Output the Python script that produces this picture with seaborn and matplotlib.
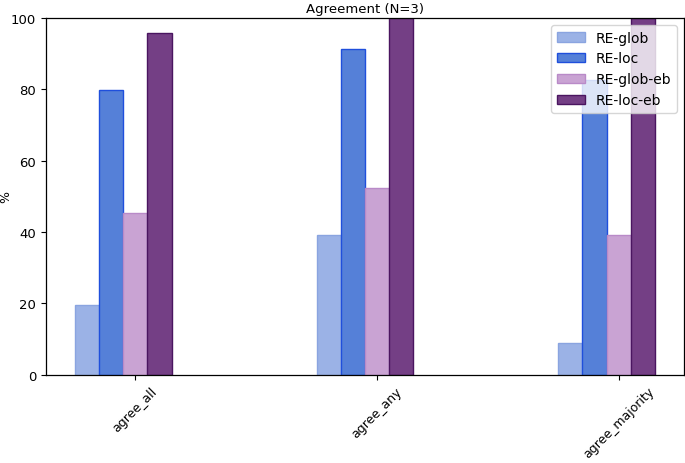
import numpy as np
import pandas as pd
import matplotlib
matplotlib.use("Agg")
import matplotlib.pyplot as plt
import seaborn as sns

####data####
categories = ["agree_all", "agree_any", "agree_majority"]
methods = ["RE-glob", "RE-loc", "RE-glob-eb", "RE-loc-eb"]
re_glob = [19.5, 39.2, 9.0]
re_loc = [79.8, 91.3, 82.5]
re_glob_eb = [45.3, 52.3, 39.2]
re_loc_eb = [95.8, 100.0, 100.0]

fills = ["#9bb2e6", "#5580d8", "#c9a3d3", "#743f85"]
edges = ["#8aa4e0", "#1f4fdc", "#b98ac8", "#4a1560"]

####figure settings####
sns.set_style("ticks")
plt.rcParams["font.family"] = ["DejaVu Sans"]
for k in ["text.color", "axes.labelcolor", "xtick.color", "ytick.color", "axes.edgecolor"]:
    plt.rcParams[k] = "black"

rows = []
for m, vals in zip(methods, [re_glob, re_loc, re_glob_eb, re_loc_eb]):
    for c, v in zip(categories, vals):
        rows.append({"category": c, "method": m, "value": v})
df = pd.DataFrame(rows)
# bars sit at group index + offset (-0.2, -0.1, 0, 0.1), width 0.1
offs = {m: -0.2 + 0.1 * i for i, m in enumerate(methods)}
df["pos"] = df["category"].map({c: i for i, c in enumerate(categories)}) + df["method"].map(offs)
df["pos"] = df["pos"].round(2)

fig = plt.figure(figsize=(6.85, 4.64), dpi=100)
ax = fig.add_axes([0.067, 0.19, 0.9315, 0.769])

sns.barplot(data=df, x="pos", y="value", hue="method", hue_order=methods,
            palette=fills, native_scale=True, dodge=False, width=1.0,
            saturation=1.0, linewidth=1.0, ax=ax)

for cont, ec in zip(ax.containers, edges):
    for p in cont:
        p.set_edgecolor(ec)

ax.set_xlim(-0.37, 2.27)
ax.set_ylim(0, 100)
ax.set_xticks(range(len(categories)))
ax.set_xticklabels(categories, rotation=45, fontsize=9)
ax.tick_params(axis="y", labelsize=9.5)
ax.set_xlabel("")
ax.set_ylabel("%", fontsize=9)
ax.yaxis.set_label_coords(-0.052, 0.5)
ax.set_title("Agreement (N=3)", fontsize=9.5, pad=4)
for s in ax.spines.values():
    s.set_visible(True)
    s.set_linewidth(0.9)

leg = ax.legend(loc="upper right", fontsize=10, frameon=True)
leg.get_frame().set_edgecolor("#cccccc")
for h, ec in zip(leg.legend_handles, edges):
    h.set_edgecolor(ec)
    h.set_linewidth(1.0)

plt.savefig("out.png", dpi=100)
